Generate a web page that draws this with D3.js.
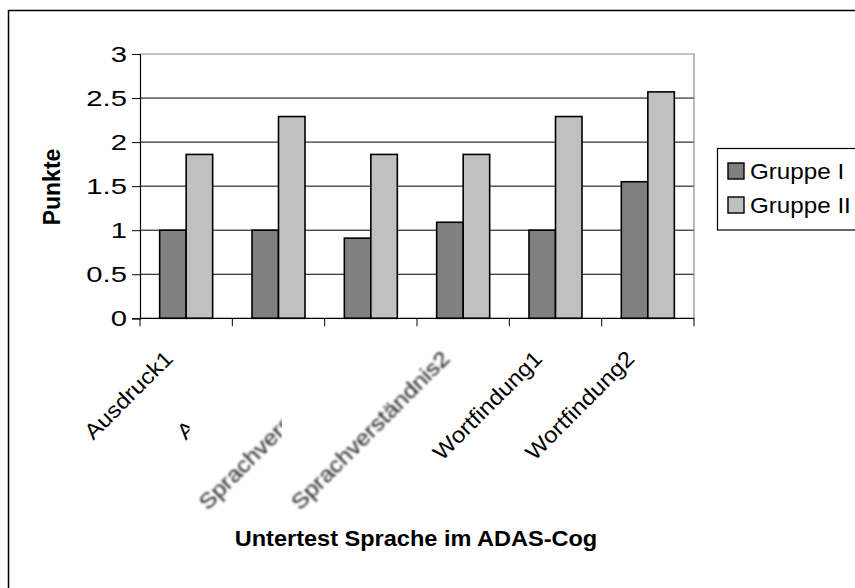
<!DOCTYPE html>
<html><head><meta charset="utf-8">
<script src="https://cdn.jsdelivr.net/npm/d3@7"></script>
<style>
html,body{margin:0;padding:0;background:#fff;}
svg{display:block;font-family:"Liberation Sans",Arial,sans-serif;}
</style></head>
<body>
<svg id="chart" width="855" height="588"></svg>
<script>
const categories = ["Ausdruck1","Ausdruck2","Sprachverständnis1","Sprachverständnis2","Wortfindung1","Wortfindung2"];
const seriesNames = ["Gruppe I","Gruppe II"];
const gruppeI = [1.0, 1.0, 0.91, 1.09, 1.0, 1.55];
const gruppeII = [1.86, 2.29, 1.86, 1.86, 2.29, 2.57];
const yTicks = [0, 0.5, 1, 1.5, 2, 2.5, 3];
const yTitle = "Punkte";
const xTitle = "Untertest Sprache im ADAS-Cog";
const seriesColors = ["#808080", "#c0c0c0"];

const svg = d3.select("#chart");
const L = 140, R = 694, T = 54, B = 318.3;

const defs = svg.append("defs");
defs.append("filter").attr("id","blur").attr("x","-10%").attr("y","-10%").attr("width","120%").attr("height","120%")
  .append("feGaussianBlur").attr("stdDeviation", 0.8);

// outer frame
svg.append("rect").attr("x",8.5).attr("y",10.5).attr("width",900).attr("height",700)
  .attr("fill","#fff").attr("stroke","#000").attr("stroke-width",1.5);

const x = d3.scaleBand().domain(categories).range([L, R]).padding(0);
const bw = x.bandwidth();
const xs = d3.scaleBand().domain(seriesNames).range([bw*0.213, bw*0.787]).padding(0);
const y = d3.scaleLinear().domain([0, 3]).range([B, T]);

// gridlines
svg.append("g").selectAll("line").data(yTicks.filter(d => d > 0 && d < 3)).join("line")
  .attr("x1", L).attr("x2", R).attr("y1", d => y(d)).attr("y2", d => y(d))
  .attr("stroke","#000").attr("stroke-width",1);
// top & right border (gray)
svg.append("path").attr("d", `M${L},${y(3)}H${R}V${y(0)}`).attr("fill","none")
  .attr("stroke","#8a8a8a").attr("stroke-width",1.2);

// bars
const data = categories.map((c,i) => ({c, vals:[gruppeI[i], gruppeII[i]]}));
const grp = svg.append("g").selectAll("g").data(data).join("g")
  .attr("transform", d => `translate(${x(d.c)},0)`);
grp.selectAll("rect").data(d => d.vals.map((v,j) => ({s: seriesNames[j], v, j}))).join("rect")
  .attr("x", d => xs(d.s)).attr("width", xs.bandwidth())
  .attr("y", d => y(d.v)).attr("height", d => y(0) - y(d.v))
  .attr("fill", d => seriesColors[d.j]).attr("stroke","#000").attr("stroke-width",1.6);

// y axis
const yAxis = svg.append("g").attr("transform", `translate(${L},0)`)
  .call(d3.axisLeft(y).tickValues(yTicks).tickSize(8).tickPadding(5).tickFormat(d => String(d)));
yAxis.select(".domain").attr("stroke","#000").attr("stroke-width",1.2);
yAxis.selectAll(".tick line").attr("stroke","#000");
yAxis.selectAll(".tick text")
  .attr("font-size",22).attr("fill","#000")
  .attr("font-family","Liberation Sans, Arial, sans-serif")
  .attr("transform", function(){ const tx = +d3.select(this).attr("x"); return `translate(${tx},0) scale(1.33,1) translate(${-tx},0)`; });

// x axis line and ticks at band boundaries
svg.append("line").attr("x1",L).attr("x2",R).attr("y1",y(0)).attr("y2",y(0)).attr("stroke","#000").attr("stroke-width",1.2);
const bounds = categories.map(c => x(c)).concat([R]);
svg.append("g").selectAll("line").data(bounds).join("line")
  .attr("x1", d => d).attr("x2", d => d).attr("y1", y(0)).attr("y2", y(0)+8)
  .attr("stroke","#000").attr("stroke-width",1);

// x labels
const clipCut = [null, 89, 89, null, null, null];
categories.forEach((c,i) => {
  const cx = x(c) + bw/2;
  if (clipCut[i] !== null) {
    defs.append("clipPath").attr("id","clip"+i).append("rect")
      .attr("x",0).attr("y",0).attr("width", cx - clipCut[i]).attr("height",588);
  }
});
const xl = svg.append("g").selectAll("g").data(categories).join("g")
  .attr("clip-path", (d,i) => clipCut[i] !== null ? `url(#clip${i})` : null);
xl.append("text")
  .attr("transform", d => `translate(${x(d) + bw/2 - 12},360) rotate(-45) scale(1.1,1)`)
  .attr("text-anchor","end").attr("font-size",22)
  .attr("fill", (d,i) => (i===2||i===3) ? "#222" : "#000")
  .attr("filter", (d,i) => (i===2||i===3) ? "url(#blur)" : null)
  .text(d => d);

// axis titles
svg.append("text").attr("transform","translate(60,187) rotate(-90)")
  .attr("text-anchor","middle").attr("font-weight","bold").attr("font-size",23).text(yTitle);
svg.append("text").attr("transform","translate(416,546) scale(1.07,1)").attr("text-anchor","middle")
  .attr("font-weight","bold").attr("font-size",22).text(xTitle);

// legend
svg.append("rect").attr("x",717.5).attr("y",148.5).attr("width",200).attr("height",81.5)
  .attr("fill","#fff").attr("stroke","#000").attr("stroke-width",1.2);
const lg = svg.append("g").selectAll("g").data(seriesNames).join("g")
  .attr("transform", (d,i) => `translate(728,${171 + i*34})`);
lg.append("rect").attr("x",0).attr("y",-8).attr("width",16).attr("height",16)
  .attr("fill",(d,i) => seriesColors[i]).attr("stroke","#000").attr("stroke-width",1.4);
lg.append("text").attr("transform","translate(22,8) scale(1.1,1)").attr("font-size",22).text(d => d);
</script>
</body></html>
